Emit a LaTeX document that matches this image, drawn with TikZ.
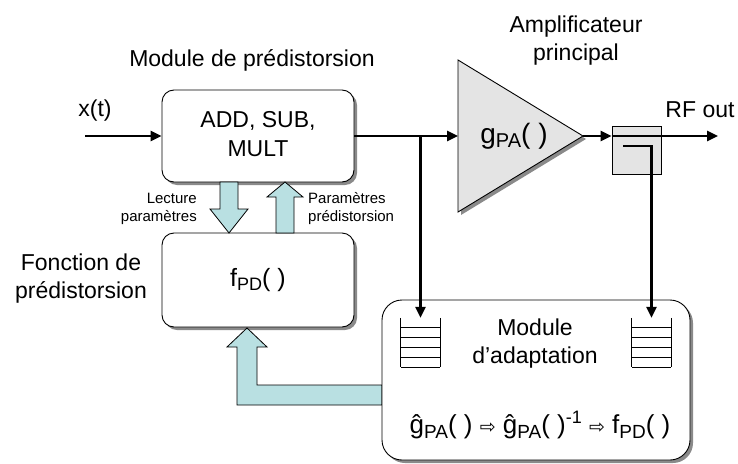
\documentclass[tikz,border=0pt]{standalone}
\usepackage{fontspec}
\setmainfont{Liberation Sans}
\newfontfamily\symfont{DejaVu Sans}
\usetikzlibrary{arrows.meta, positioning, calc, shadows}
\definecolor{flow}{HTML}{B9E0E2}
\definecolor{paGray}{HTML}{E4E4E4}
\definecolor{shade}{HTML}{8A8A8A}
\newcommand{\lowidx}[2][17]{\raisebox{-0.3ex}{\fontsize{#1}{#1}\selectfont #2}}
\newcommand{\highidx}[1]{\raisebox{0.8ex}{\fontsize{18}{18}\selectfont #1}}
\newcommand{\thenarrow}{ {\symfont\fontsize{19}{19}\selectfont ⇨} }
\tikzset{
  txt/.style = {align=center, font=\fontsize{23}{28}\selectfont, inner sep=1pt},
  smalltxt/.style = {font=\fontsize{15}{18}\selectfont, inner sep=1pt},
  block/.style = {rectangle, rounded corners=12pt, draw=black, line width=0.9pt,
    fill=white, align=center, font=\fontsize{23}{29}\selectfont,
    drop shadow={shadow xshift=3pt, shadow yshift=-3pt, fill=shade, opacity=1}},
  buffer/.style = {minimum width=39pt, minimum height=49pt, inner sep=0pt},
  wire/.style = {line width=2.6pt, -{Triangle[length=11pt, width=10pt]}},
  flowarrow/.style = {draw=black, line width=0.8pt, fill=flow},
}

\begin{document}
\begin{tikzpicture}[x=1pt, y=-1pt]
\useasboundingbox (0,0) rectangle (738,463);

% blocs de predistorsion
\node[block, minimum width=192pt, minimum height=92pt] (ops) at (258,136)
  {\raisebox{-5pt}{\begin{tabular}{@{}c@{}}ADD, SUB,\\MULT\end{tabular}}};
\node[block, minimum width=192pt, minimum height=94pt] (fpd) at (258,280) {\fontsize{25}{25}\selectfont f\lowidx[18]{PD}( )};
\node[txt] (modTitle) at (252,60) {Module de prédistorsion};
\node[txt] (fpdTitle) at (81,279) {Fonction de\\prédistorsion};
\node[txt] (xLabel) at (95,111) {x(t)};

% echanges de parametres
\draw[flowarrow] (220,182) -- (238,182) -- (238,209) -- (248,209) -- (229,233)
  -- (210,209) -- (220,209) -- cycle;
\draw[flowarrow] (276,233) -- (276,197) -- (267,197) -- (285,182) -- (303,197)
  -- (294,197) -- (294,233) -- cycle;
\node[smalltxt, align=right, anchor=east] (readLbl) at (198,209) {Lecture\\paramètres};
\node[smalltxt, align=left, anchor=west] (writeLbl) at (307,209) {Paramètres\\prédistorsion};

% amplificateur
\coordinate (paIn) at (458,136);
\coordinate (paOut) at (583,136);
\draw[line width=0.9pt, fill=paGray,
  drop shadow={shadow xshift=3pt, shadow yshift=-3pt, fill=shade, opacity=1}]
  (458,60) -- (paOut) -- (458,212) -- cycle;
\node[txt, font=\fontsize{28}{28}\selectfont] (paName) at (514,136) {g\lowidx[20]{PA}( )};
\node[txt] (ampTitle) at (576,41) {Amplificateur\\principal};

% coupleur
\node[draw, fill=paGray, line width=0.9pt, minimum width=49pt, minimum height=48pt] (coupler) at (636.5,150) {};
\node[txt] (rfLabel) at (700,110) {RF out};

% module d'adaptation
\draw[flowarrow] (382,385) -- (257,385) -- (257,347) -- (267,347) -- (247,328)
  -- (227,347) -- (237,347) -- (237,405) -- (382,405) -- cycle;
\node[block, rounded corners=20pt, minimum width=308pt, minimum height=160pt] (adapt) at (536,380) {};
\node[txt] (adTitle) at (535,344) {Module\\d’adaptation};
\node[txt, font=\fontsize{26}{26}\selectfont] (adRule) at (540,425) {ĝ\lowidx[19]{PA}( )\thenarrow ĝ\lowidx[19]{PA}( )\highidx{-1}\thenarrow f\lowidx[19]{PD}( )};
\node[buffer] (bufL) at (420.5,342.5) {};
\node[buffer] (bufR) at (651.5,342.5) {};
\foreach \b in {bufL, bufR} {
  \draw[line width=0.8pt] (\b.north west) -- (\b.south west);
  \draw[line width=0.8pt] (\b.north east) -- (\b.south east);
  \foreach \k in {0,...,4}
    \draw[line width=0.8pt] ($(\b.south west)+(0,-10*\k)$) -- ($(\b.south east)+(0,-10*\k)$);
}

% liaisons
\coordinate (xIn) at (85,136);
\coordinate (tap) at (420.5,136);
\coordinate (rfOut) at (718,136);
\coordinate (cplA) at (623,146);
\draw[wire] (xIn) -- (ops.west);
\draw[wire] (ops.east) -- (paIn);
\draw[wire] (tap) -- (bufL.north);
\draw[wire] (paOut) -- (coupler.west |- paOut);
\draw[wire] (coupler.west |- paOut) -- (rfOut);
\draw[wire] (cplA) -| (bufR.north);
\end{tikzpicture}
\end{document}
